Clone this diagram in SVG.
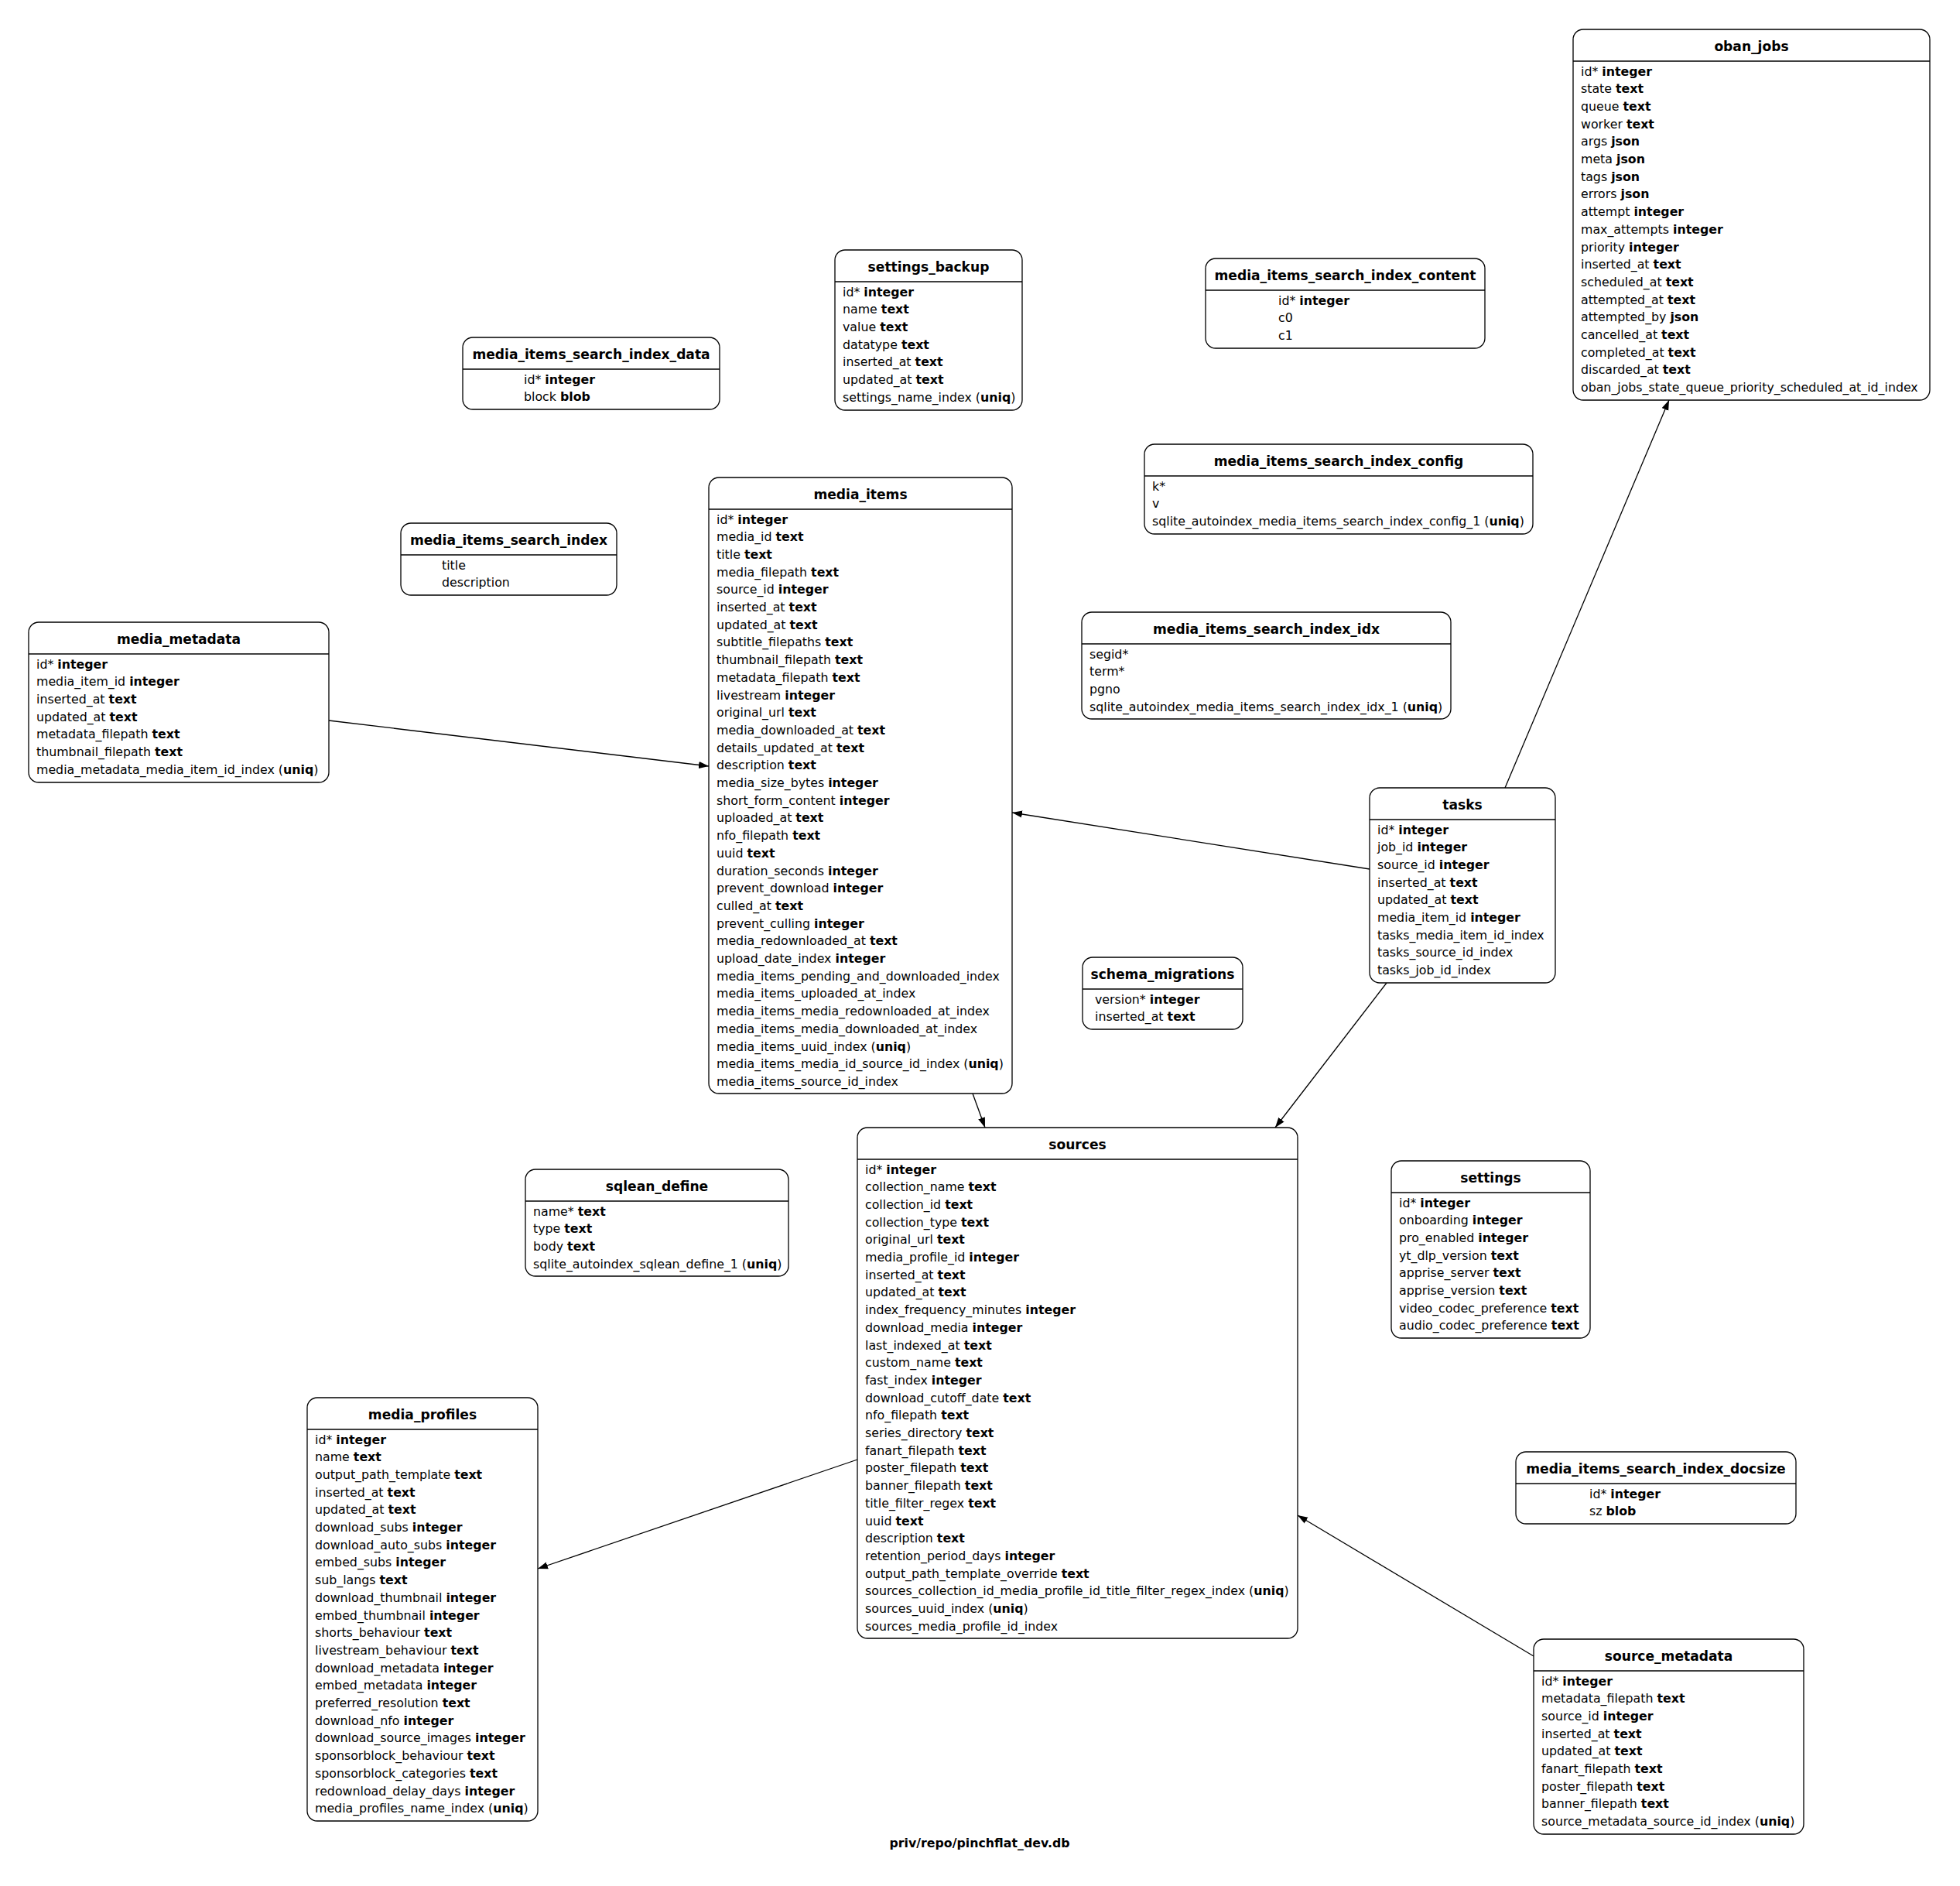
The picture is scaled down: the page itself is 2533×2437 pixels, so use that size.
<svg xmlns="http://www.w3.org/2000/svg" width="2533" height="2437" viewBox="0 0 2533 2437">
<style>
.box{fill:#fff;stroke:#000;stroke-width:1.3}
.hl{stroke:#000;stroke-width:1.3}
.t{font-family:"DejaVu Sans",sans-serif;font-size:17.1px;font-weight:bold;text-anchor:middle;fill:#000}
.r{font-family:"DejaVu Sans",sans-serif;font-size:15.8px;fill:#000}
.b{font-weight:bold}
.e{fill:none;stroke:#000;stroke-width:1.3}
</style>
<defs>
<marker id="arr" markerWidth="14" markerHeight="10" refX="13" refY="5" orient="auto" markerUnits="userSpaceOnUse"><path d="M0,0.4 L13,5 L0,9.6 z" fill="#000"/></marker>
</defs>
<rect width="2533" height="2437" fill="#fff"/>
<g id="connectors">
<line class="e" x1="425" y1="931" x2="916" y2="990" marker-end="url(#arr)"/>
<line class="e" x1="1770" y1="1123" x2="1308" y2="1050" marker-end="url(#arr)"/>
<line class="e" x1="1945" y1="1018" x2="2157" y2="517" marker-end="url(#arr)"/>
<line class="e" x1="1792" y1="1270" x2="1648" y2="1457" marker-end="url(#arr)"/>
<line class="e" x1="1257" y1="1413" x2="1273" y2="1457" marker-end="url(#arr)"/>
<line class="e" x1="1108" y1="1886" x2="695" y2="2027" marker-end="url(#arr)"/>
<line class="e" x1="1982" y1="2140" x2="1677" y2="1958" marker-end="url(#arr)"/>
</g>
<g id="oban_jobs">
<rect class="box" x="2033" y="38" width="461" height="479" rx="13"/>
<line class="hl" x1="2033" y1="79" x2="2494" y2="79"/>
<text class="t" x="2263.5" y="66">oban_jobs</text>
<text class="r" x="2043" y="97.5">id* <tspan class="b">integer</tspan></text>
<text class="r" x="2043" y="120.2">state <tspan class="b">text</tspan></text>
<text class="r" x="2043" y="142.9">queue <tspan class="b">text</tspan></text>
<text class="r" x="2043" y="165.6">worker <tspan class="b">text</tspan></text>
<text class="r" x="2043" y="188.3">args <tspan class="b">json</tspan></text>
<text class="r" x="2043" y="211">meta <tspan class="b">json</tspan></text>
<text class="r" x="2043" y="233.7">tags <tspan class="b">json</tspan></text>
<text class="r" x="2043" y="256.4">errors <tspan class="b">json</tspan></text>
<text class="r" x="2043" y="279.1">attempt <tspan class="b">integer</tspan></text>
<text class="r" x="2043" y="301.8">max_attempts <tspan class="b">integer</tspan></text>
<text class="r" x="2043" y="324.5">priority <tspan class="b">integer</tspan></text>
<text class="r" x="2043" y="347.2">inserted_at <tspan class="b">text</tspan></text>
<text class="r" x="2043" y="369.9">scheduled_at <tspan class="b">text</tspan></text>
<text class="r" x="2043" y="392.6">attempted_at <tspan class="b">text</tspan></text>
<text class="r" x="2043" y="415.3">attempted_by <tspan class="b">json</tspan></text>
<text class="r" x="2043" y="438">cancelled_at <tspan class="b">text</tspan></text>
<text class="r" x="2043" y="460.7">completed_at <tspan class="b">text</tspan></text>
<text class="r" x="2043" y="483.4">discarded_at <tspan class="b">text</tspan></text>
<text class="r" x="2043" y="506.1">oban_jobs_state_queue_priority_scheduled_at_id_index</text>
</g>
<g id="settings_backup">
<rect class="box" x="1079" y="323" width="242" height="207" rx="13"/>
<line class="hl" x1="1079" y1="364" x2="1321" y2="364"/>
<text class="t" x="1200" y="351">settings_backup</text>
<text class="r" x="1089" y="382.5">id* <tspan class="b">integer</tspan></text>
<text class="r" x="1089" y="405.2">name <tspan class="b">text</tspan></text>
<text class="r" x="1089" y="427.9">value <tspan class="b">text</tspan></text>
<text class="r" x="1089" y="450.6">datatype <tspan class="b">text</tspan></text>
<text class="r" x="1089" y="473.3">inserted_at <tspan class="b">text</tspan></text>
<text class="r" x="1089" y="496">updated_at <tspan class="b">text</tspan></text>
<text class="r" x="1089" y="518.7">settings_name_index (<tspan class="b">uniq</tspan>)</text>
</g>
<g id="media_items_search_index_data">
<rect class="box" x="598" y="436" width="332" height="93" rx="13"/>
<line class="hl" x1="598" y1="477" x2="930" y2="477"/>
<text class="t" x="764" y="464">media_items_search_index_data</text>
<text class="r" x="677" y="495.5">id* <tspan class="b">integer</tspan></text>
<text class="r" x="677" y="518.2">block <tspan class="b">blob</tspan></text>
</g>
<g id="media_items_search_index_content">
<rect class="box" x="1558" y="334" width="361" height="116" rx="13"/>
<line class="hl" x1="1558" y1="375" x2="1919" y2="375"/>
<text class="t" x="1738.5" y="362">media_items_search_index_content</text>
<text class="r" x="1652" y="393.5">id* <tspan class="b">integer</tspan></text>
<text class="r" x="1652" y="416.2">c0</text>
<text class="r" x="1652" y="438.9">c1</text>
</g>
<g id="media_items_search_index_config">
<rect class="box" x="1479" y="574" width="502" height="116" rx="13"/>
<line class="hl" x1="1479" y1="615" x2="1981" y2="615"/>
<text class="t" x="1730" y="602">media_items_search_index_config</text>
<text class="r" x="1489" y="633.5">k*</text>
<text class="r" x="1489" y="656.2">v</text>
<text class="r" x="1489" y="678.9">sqlite_autoindex_media_items_search_index_config_1 (<tspan class="b">uniq</tspan>)</text>
</g>
<g id="media_items">
<rect class="box" x="916" y="617" width="392" height="796" rx="13"/>
<line class="hl" x1="916" y1="658" x2="1308" y2="658"/>
<text class="t" x="1112" y="645">media_items</text>
<text class="r" x="926" y="676.5">id* <tspan class="b">integer</tspan></text>
<text class="r" x="926" y="699.2">media_id <tspan class="b">text</tspan></text>
<text class="r" x="926" y="721.9">title <tspan class="b">text</tspan></text>
<text class="r" x="926" y="744.6">media_filepath <tspan class="b">text</tspan></text>
<text class="r" x="926" y="767.3">source_id <tspan class="b">integer</tspan></text>
<text class="r" x="926" y="790">inserted_at <tspan class="b">text</tspan></text>
<text class="r" x="926" y="812.7">updated_at <tspan class="b">text</tspan></text>
<text class="r" x="926" y="835.4">subtitle_filepaths <tspan class="b">text</tspan></text>
<text class="r" x="926" y="858.1">thumbnail_filepath <tspan class="b">text</tspan></text>
<text class="r" x="926" y="880.8">metadata_filepath <tspan class="b">text</tspan></text>
<text class="r" x="926" y="903.5">livestream <tspan class="b">integer</tspan></text>
<text class="r" x="926" y="926.2">original_url <tspan class="b">text</tspan></text>
<text class="r" x="926" y="948.9">media_downloaded_at <tspan class="b">text</tspan></text>
<text class="r" x="926" y="971.6">details_updated_at <tspan class="b">text</tspan></text>
<text class="r" x="926" y="994.3">description <tspan class="b">text</tspan></text>
<text class="r" x="926" y="1017">media_size_bytes <tspan class="b">integer</tspan></text>
<text class="r" x="926" y="1039.7">short_form_content <tspan class="b">integer</tspan></text>
<text class="r" x="926" y="1062.4">uploaded_at <tspan class="b">text</tspan></text>
<text class="r" x="926" y="1085.1">nfo_filepath <tspan class="b">text</tspan></text>
<text class="r" x="926" y="1107.8">uuid <tspan class="b">text</tspan></text>
<text class="r" x="926" y="1130.5">duration_seconds <tspan class="b">integer</tspan></text>
<text class="r" x="926" y="1153.2">prevent_download <tspan class="b">integer</tspan></text>
<text class="r" x="926" y="1175.9">culled_at <tspan class="b">text</tspan></text>
<text class="r" x="926" y="1198.6">prevent_culling <tspan class="b">integer</tspan></text>
<text class="r" x="926" y="1221.3">media_redownloaded_at <tspan class="b">text</tspan></text>
<text class="r" x="926" y="1244">upload_date_index <tspan class="b">integer</tspan></text>
<text class="r" x="926" y="1266.7">media_items_pending_and_downloaded_index</text>
<text class="r" x="926" y="1289.4">media_items_uploaded_at_index</text>
<text class="r" x="926" y="1312.1">media_items_media_redownloaded_at_index</text>
<text class="r" x="926" y="1334.8">media_items_media_downloaded_at_index</text>
<text class="r" x="926" y="1357.5">media_items_uuid_index (<tspan class="b">uniq</tspan>)</text>
<text class="r" x="926" y="1380.2">media_items_media_id_source_id_index (<tspan class="b">uniq</tspan>)</text>
<text class="r" x="926" y="1402.9">media_items_source_id_index</text>
</g>
<g id="media_items_search_index">
<rect class="box" x="518" y="676" width="279" height="93" rx="13"/>
<line class="hl" x1="518" y1="717" x2="797" y2="717"/>
<text class="t" x="657.5" y="704">media_items_search_index</text>
<text class="r" x="571" y="735.5">title</text>
<text class="r" x="571" y="758.2">description</text>
</g>
<g id="media_metadata">
<rect class="box" x="37" y="804" width="388" height="207" rx="13"/>
<line class="hl" x1="37" y1="845" x2="425" y2="845"/>
<text class="t" x="231" y="832">media_metadata</text>
<text class="r" x="47" y="863.5">id* <tspan class="b">integer</tspan></text>
<text class="r" x="47" y="886.2">media_item_id <tspan class="b">integer</tspan></text>
<text class="r" x="47" y="908.9">inserted_at <tspan class="b">text</tspan></text>
<text class="r" x="47" y="931.6">updated_at <tspan class="b">text</tspan></text>
<text class="r" x="47" y="954.3">metadata_filepath <tspan class="b">text</tspan></text>
<text class="r" x="47" y="977">thumbnail_filepath <tspan class="b">text</tspan></text>
<text class="r" x="47" y="999.7">media_metadata_media_item_id_index (<tspan class="b">uniq</tspan>)</text>
</g>
<g id="media_items_search_index_idx">
<rect class="box" x="1398" y="791" width="477" height="138" rx="13"/>
<line class="hl" x1="1398" y1="832" x2="1875" y2="832"/>
<text class="t" x="1636.5" y="819">media_items_search_index_idx</text>
<text class="r" x="1408" y="850.5">segid*</text>
<text class="r" x="1408" y="873.2">term*</text>
<text class="r" x="1408" y="895.9">pgno</text>
<text class="r" x="1408" y="918.6">sqlite_autoindex_media_items_search_index_idx_1 (<tspan class="b">uniq</tspan>)</text>
</g>
<g id="tasks">
<rect class="box" x="1770" y="1018" width="240" height="252" rx="13"/>
<line class="hl" x1="1770" y1="1059" x2="2010" y2="1059"/>
<text class="t" x="1890" y="1046">tasks</text>
<text class="r" x="1780" y="1077.5">id* <tspan class="b">integer</tspan></text>
<text class="r" x="1780" y="1100.2">job_id <tspan class="b">integer</tspan></text>
<text class="r" x="1780" y="1122.9">source_id <tspan class="b">integer</tspan></text>
<text class="r" x="1780" y="1145.6">inserted_at <tspan class="b">text</tspan></text>
<text class="r" x="1780" y="1168.3">updated_at <tspan class="b">text</tspan></text>
<text class="r" x="1780" y="1191">media_item_id <tspan class="b">integer</tspan></text>
<text class="r" x="1780" y="1213.7">tasks_media_item_id_index</text>
<text class="r" x="1780" y="1236.4">tasks_source_id_index</text>
<text class="r" x="1780" y="1259.1">tasks_job_id_index</text>
</g>
<g id="schema_migrations">
<rect class="box" x="1399" y="1237" width="207" height="93" rx="13"/>
<line class="hl" x1="1399" y1="1278" x2="1606" y2="1278"/>
<text class="t" x="1502.5" y="1265">schema_migrations</text>
<text class="r" x="1415" y="1296.5">version* <tspan class="b">integer</tspan></text>
<text class="r" x="1415" y="1319.2">inserted_at <tspan class="b">text</tspan></text>
</g>
<g id="sources">
<rect class="box" x="1108" y="1457" width="569" height="660" rx="13"/>
<line class="hl" x1="1108" y1="1498" x2="1677" y2="1498"/>
<text class="t" x="1392.5" y="1485">sources</text>
<text class="r" x="1118" y="1516.5">id* <tspan class="b">integer</tspan></text>
<text class="r" x="1118" y="1539.2">collection_name <tspan class="b">text</tspan></text>
<text class="r" x="1118" y="1561.9">collection_id <tspan class="b">text</tspan></text>
<text class="r" x="1118" y="1584.6">collection_type <tspan class="b">text</tspan></text>
<text class="r" x="1118" y="1607.3">original_url <tspan class="b">text</tspan></text>
<text class="r" x="1118" y="1630">media_profile_id <tspan class="b">integer</tspan></text>
<text class="r" x="1118" y="1652.7">inserted_at <tspan class="b">text</tspan></text>
<text class="r" x="1118" y="1675.4">updated_at <tspan class="b">text</tspan></text>
<text class="r" x="1118" y="1698.1">index_frequency_minutes <tspan class="b">integer</tspan></text>
<text class="r" x="1118" y="1720.8">download_media <tspan class="b">integer</tspan></text>
<text class="r" x="1118" y="1743.5">last_indexed_at <tspan class="b">text</tspan></text>
<text class="r" x="1118" y="1766.2">custom_name <tspan class="b">text</tspan></text>
<text class="r" x="1118" y="1788.9">fast_index <tspan class="b">integer</tspan></text>
<text class="r" x="1118" y="1811.6">download_cutoff_date <tspan class="b">text</tspan></text>
<text class="r" x="1118" y="1834.3">nfo_filepath <tspan class="b">text</tspan></text>
<text class="r" x="1118" y="1857">series_directory <tspan class="b">text</tspan></text>
<text class="r" x="1118" y="1879.7">fanart_filepath <tspan class="b">text</tspan></text>
<text class="r" x="1118" y="1902.4">poster_filepath <tspan class="b">text</tspan></text>
<text class="r" x="1118" y="1925.1">banner_filepath <tspan class="b">text</tspan></text>
<text class="r" x="1118" y="1947.8">title_filter_regex <tspan class="b">text</tspan></text>
<text class="r" x="1118" y="1970.5">uuid <tspan class="b">text</tspan></text>
<text class="r" x="1118" y="1993.2">description <tspan class="b">text</tspan></text>
<text class="r" x="1118" y="2015.9">retention_period_days <tspan class="b">integer</tspan></text>
<text class="r" x="1118" y="2038.6">output_path_template_override <tspan class="b">text</tspan></text>
<text class="r" x="1118" y="2061.3">sources_collection_id_media_profile_id_title_filter_regex_index (<tspan class="b">uniq</tspan>)</text>
<text class="r" x="1118" y="2084">sources_uuid_index (<tspan class="b">uniq</tspan>)</text>
<text class="r" x="1118" y="2106.7">sources_media_profile_id_index</text>
</g>
<g id="sqlean_define">
<rect class="box" x="679" y="1511" width="340" height="138" rx="13"/>
<line class="hl" x1="679" y1="1552" x2="1019" y2="1552"/>
<text class="t" x="849" y="1539">sqlean_define</text>
<text class="r" x="689" y="1570.5">name* <tspan class="b">text</tspan></text>
<text class="r" x="689" y="1593.2">type <tspan class="b">text</tspan></text>
<text class="r" x="689" y="1615.9">body <tspan class="b">text</tspan></text>
<text class="r" x="689" y="1638.6">sqlite_autoindex_sqlean_define_1 (<tspan class="b">uniq</tspan>)</text>
</g>
<g id="settings">
<rect class="box" x="1798" y="1500" width="257" height="229" rx="13"/>
<line class="hl" x1="1798" y1="1541" x2="2055" y2="1541"/>
<text class="t" x="1926.5" y="1528">settings</text>
<text class="r" x="1808" y="1559.5">id* <tspan class="b">integer</tspan></text>
<text class="r" x="1808" y="1582.2">onboarding <tspan class="b">integer</tspan></text>
<text class="r" x="1808" y="1604.9">pro_enabled <tspan class="b">integer</tspan></text>
<text class="r" x="1808" y="1627.6">yt_dlp_version <tspan class="b">text</tspan></text>
<text class="r" x="1808" y="1650.3">apprise_server <tspan class="b">text</tspan></text>
<text class="r" x="1808" y="1673">apprise_version <tspan class="b">text</tspan></text>
<text class="r" x="1808" y="1695.7">video_codec_preference <tspan class="b">text</tspan></text>
<text class="r" x="1808" y="1718.4">audio_codec_preference <tspan class="b">text</tspan></text>
</g>
<g id="media_profiles">
<rect class="box" x="397" y="1806" width="298" height="547" rx="13"/>
<line class="hl" x1="397" y1="1847" x2="695" y2="1847"/>
<text class="t" x="546" y="1834">media_profiles</text>
<text class="r" x="407" y="1865.5">id* <tspan class="b">integer</tspan></text>
<text class="r" x="407" y="1888.2">name <tspan class="b">text</tspan></text>
<text class="r" x="407" y="1910.9">output_path_template <tspan class="b">text</tspan></text>
<text class="r" x="407" y="1933.6">inserted_at <tspan class="b">text</tspan></text>
<text class="r" x="407" y="1956.3">updated_at <tspan class="b">text</tspan></text>
<text class="r" x="407" y="1979">download_subs <tspan class="b">integer</tspan></text>
<text class="r" x="407" y="2001.7">download_auto_subs <tspan class="b">integer</tspan></text>
<text class="r" x="407" y="2024.4">embed_subs <tspan class="b">integer</tspan></text>
<text class="r" x="407" y="2047.1">sub_langs <tspan class="b">text</tspan></text>
<text class="r" x="407" y="2069.8">download_thumbnail <tspan class="b">integer</tspan></text>
<text class="r" x="407" y="2092.5">embed_thumbnail <tspan class="b">integer</tspan></text>
<text class="r" x="407" y="2115.2">shorts_behaviour <tspan class="b">text</tspan></text>
<text class="r" x="407" y="2137.9">livestream_behaviour <tspan class="b">text</tspan></text>
<text class="r" x="407" y="2160.6">download_metadata <tspan class="b">integer</tspan></text>
<text class="r" x="407" y="2183.3">embed_metadata <tspan class="b">integer</tspan></text>
<text class="r" x="407" y="2206">preferred_resolution <tspan class="b">text</tspan></text>
<text class="r" x="407" y="2228.7">download_nfo <tspan class="b">integer</tspan></text>
<text class="r" x="407" y="2251.4">download_source_images <tspan class="b">integer</tspan></text>
<text class="r" x="407" y="2274.1">sponsorblock_behaviour <tspan class="b">text</tspan></text>
<text class="r" x="407" y="2296.8">sponsorblock_categories <tspan class="b">text</tspan></text>
<text class="r" x="407" y="2319.5">redownload_delay_days <tspan class="b">integer</tspan></text>
<text class="r" x="407" y="2342.2">media_profiles_name_index (<tspan class="b">uniq</tspan>)</text>
</g>
<g id="media_items_search_index_docsize">
<rect class="box" x="1959" y="1876" width="362" height="93" rx="13"/>
<line class="hl" x1="1959" y1="1917" x2="2321" y2="1917"/>
<text class="t" x="2140" y="1904">media_items_search_index_docsize</text>
<text class="r" x="2054" y="1935.5">id* <tspan class="b">integer</tspan></text>
<text class="r" x="2054" y="1958.2">sz <tspan class="b">blob</tspan></text>
</g>
<g id="source_metadata">
<rect class="box" x="1982" y="2118" width="349" height="252" rx="13"/>
<line class="hl" x1="1982" y1="2159" x2="2331" y2="2159"/>
<text class="t" x="2156.5" y="2146">source_metadata</text>
<text class="r" x="1992" y="2177.5">id* <tspan class="b">integer</tspan></text>
<text class="r" x="1992" y="2200.2">metadata_filepath <tspan class="b">text</tspan></text>
<text class="r" x="1992" y="2222.9">source_id <tspan class="b">integer</tspan></text>
<text class="r" x="1992" y="2245.6">inserted_at <tspan class="b">text</tspan></text>
<text class="r" x="1992" y="2268.3">updated_at <tspan class="b">text</tspan></text>
<text class="r" x="1992" y="2291">fanart_filepath <tspan class="b">text</tspan></text>
<text class="r" x="1992" y="2313.7">poster_filepath <tspan class="b">text</tspan></text>
<text class="r" x="1992" y="2336.4">banner_filepath <tspan class="b">text</tspan></text>
<text class="r" x="1992" y="2359.1">source_metadata_source_id_index (<tspan class="b">uniq</tspan>)</text>
</g>
<g id="graph_label">
<text class="r b" x="1266" y="2387" text-anchor="middle">priv/repo/pinchflat_dev.db</text>
</g>
</svg>
